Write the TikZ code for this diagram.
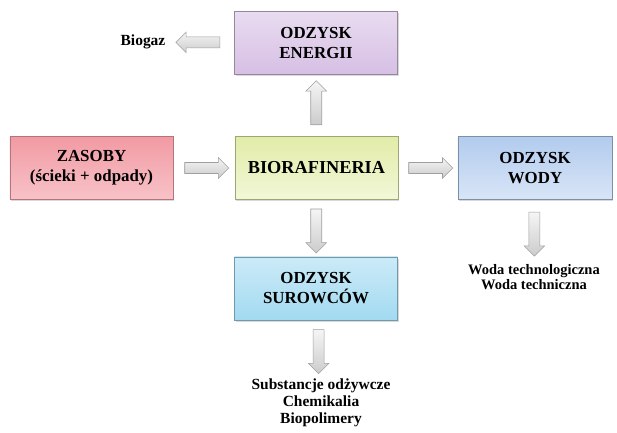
\documentclass[tikz,border=0pt]{standalone}
\usepackage{fontspec}
\setmainfont{Liberation Serif}[BoldFont={Liberation Serif Bold}]
\usepackage{tikz}
\usetikzlibrary{shapes.arrows, shadows, positioning}
\definecolor{energiifill}{HTML}{D6BFE4}
\definecolor{zasobyfill}{HTML}{F29AA3}
\definecolor{biofill}{HTML}{E2ECA8}
\definecolor{wodyfill}{HTML}{B2CBEE}
\definecolor{surowcefill}{HTML}{A2DAF1}
\tikzset{
  stagebox/.style={
    draw, thin, align=center, font=\fontsize{12}{14.2}\selectfont\bfseries,
    minimum width=4.075cm, minimum height=1.575cm, inner sep=2pt,
    drop shadow={shadow xshift=0.8pt, shadow yshift=-1.2pt, opacity=0.3}
  },
  productlabel/.style={
    align=center, font=\fontsize{11}{12}\selectfont\bfseries, inner sep=1pt
  },
  blockarrow/.style={
    single arrow, draw=gray!75, thin, top color=gray!8, bottom color=gray!40,
    minimum height=1.1cm, minimum width=0.5cm, inner sep=0.13cm,
    single arrow head extend=0.12cm, anchor=center
  },
}
\begin{document}
\begin{tikzpicture}[x=0.025cm, y=-0.025cm]
  \useasboundingbox (0,0) rectangle (617,433);

  % --- Boxes ---
  \node[stagebox, draw=energiifill!70!black, top color=energiifill!55!white,
    bottom color=energiifill] (energii) at (316,43) {ODZYSK\\ENERGII};
  \node[stagebox, draw=zasobyfill!75!black, top color=zasobyfill,
    bottom color=zasobyfill!60!white] (zasoby) at (91.5,168)
    {ZASOBY\\(ścieki + odpady)};
  \node[stagebox, draw=biofill!70!black, top color=biofill,
    bottom color=biofill!45!white, font=\fontsize{13}{15}\selectfont\bfseries]
    (bio) at (316.5,168) {BIORAFINERIA};
  \node[stagebox, minimum width=3.85cm, draw=wodyfill!70!black,
    top color=wodyfill, bottom color=wodyfill!50!white] (wody) at (535,168)
    {ODZYSK\\WODY};
  \node[stagebox, draw=surowcefill!70!black, top color=surowcefill!55!white,
    bottom color=surowcefill] (surowce) at (316,288.5) {ODZYSK\\SUROWCÓW};

  % --- Products ---
  \node[productlabel] (biogaz) at (143,42) {Biogaz};
  \node[productlabel, font=\fontsize{10.3}{10.4}\selectfont\bfseries] (woda)
    at (534,277) {Woda technologiczna\\Woda techniczna};
  \node[productlabel] (produkty) at (321,403)
    {Substancje odżywcze\\Chemikalia\\Biopolimery};

  % Arrows
  \path (zasoby) -- node[blockarrow] {} (bio);
  \path (bio) -- node[blockarrow] {} (wody);
  \path (bio) -- node[blockarrow, shape border rotate=90] {} (energii);
  \path (energii) -- node[blockarrow, shape border rotate=180] {} (biogaz);
  \path (bio) -- node[blockarrow, shape border rotate=270] {} (surowce);
  \path (wody) -- node[blockarrow, shape border rotate=270] {} (woda);
  \path (surowce) -- node[blockarrow, shape border rotate=270] {} (produkty);
\end{tikzpicture}
\end{document}
